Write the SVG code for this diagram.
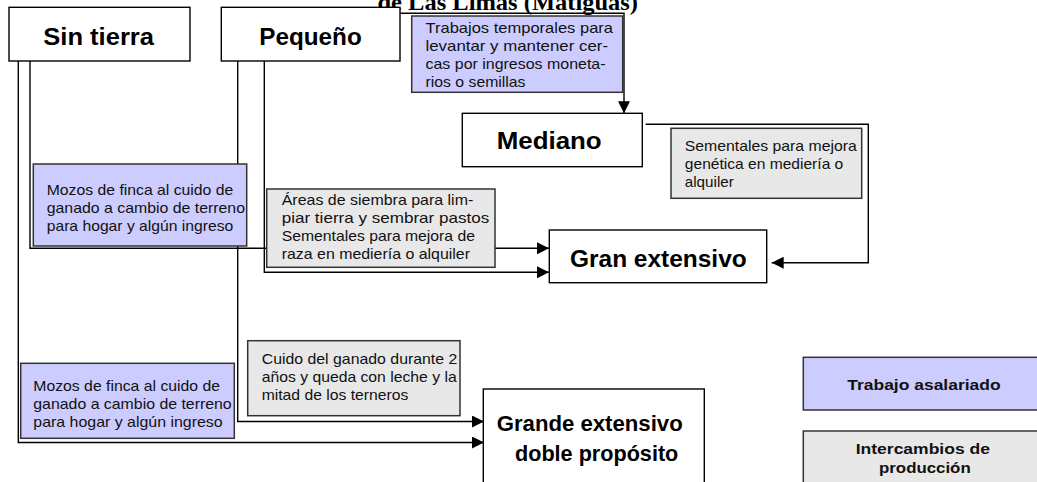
<svg xmlns="http://www.w3.org/2000/svg" width="1037" height="482" viewBox="0 0 1037 482">
<style>
.node{fill:#fff;stroke:#000;stroke-width:1.4}
.lab{stroke:#333;stroke-width:1.5}
.purple{fill:#ccccff}
.gray{fill:#e8e8e8}
.title{font-family:"Liberation Sans",Arial,sans-serif;font-weight:bold;font-size:23px;fill:#000}
.t2{font-family:"Liberation Sans",Arial,sans-serif;font-weight:bold;font-size:22px;fill:#000}
.txt{font-family:"Liberation Sans",Arial,sans-serif;font-size:15px;fill:#111}
.leg{font-family:"Liberation Sans",Arial,sans-serif;font-weight:bold;font-size:15px;fill:#111}
.con{fill:none;stroke:#000;stroke-width:1.4}
</style>
<defs>
<marker id="arr" markerUnits="userSpaceOnUse" markerWidth="13" markerHeight="12" refX="12" refY="6" orient="auto">
<path d="M0,0 L12,6 L0,12 z" fill="#000"/>
</marker>
</defs>
<rect width="1037" height="482" fill="#fff"/>
<text x="377.5" y="9.5" font-family="'Liberation Serif','Times New Roman',serif" font-weight="bold" font-size="24" textLength="260.5" lengthAdjust="spacingAndGlyphs">de Las Limas (Matiguás)</text>

<g id="connectors">
<path class="con" d="M400,13.3 H624 V113.3" marker-end="url(#arr)"/>
<path class="con" d="M645.7,124.3 H868.3 V262.7 H771.7" marker-end="url(#arr)"/>
<path class="con" d="M30,61 V248.3 H549" marker-end="url(#arr)"/>
<path class="con" d="M264.3,61 V272.3 H549" marker-end="url(#arr)"/>
<path class="con" d="M237.7,61 V421.5 H484" marker-end="url(#arr)"/>
<path class="con" d="M18.3,61 V442.5 H484" marker-end="url(#arr)"/>
</g>

<g id="sin-tierra">
<rect class="node" x="9" y="7.3" width="181" height="53.7"/>
<text class="title" x="43.3" y="45" textLength="110.7" lengthAdjust="spacingAndGlyphs">Sin tierra</text>
</g>
<g id="pequeno">
<rect class="node" x="221.3" y="7.3" width="178.7" height="53.7"/>
<text class="title" x="259.3" y="45" textLength="102.4" lengthAdjust="spacingAndGlyphs">Pequeño</text>
</g>
<g id="mediano">
<rect class="node" x="462.3" y="113.3" width="180" height="53.4"/>
<text class="title" x="496.7" y="149" textLength="105" lengthAdjust="spacingAndGlyphs">Mediano</text>
</g>
<g id="gran-extensivo">
<rect class="node" x="549.3" y="230" width="217.4" height="52.7"/>
<text class="title" x="570" y="266.7" textLength="176.7" lengthAdjust="spacingAndGlyphs">Gran extensivo</text>
</g>
<g id="grande-extensivo-doble">
<rect class="node" x="483.3" y="389" width="221" height="100"/>
<text class="t2" x="496.7" y="430.5" textLength="186" lengthAdjust="spacingAndGlyphs">Grande extensivo</text>
<text class="t2" x="515" y="460.5" textLength="163.3" lengthAdjust="spacingAndGlyphs">doble propósito</text>
</g>

<g id="label-trabajos-temporales">
<rect class="lab purple" x="411.7" y="16" width="211" height="76.3"/>
<text class="txt" x="425.5" y="32.5" textLength="187.5" lengthAdjust="spacingAndGlyphs">Trabajos temporales para</text>
<text class="txt" x="425.5" y="50.5" textLength="182.5" lengthAdjust="spacingAndGlyphs">levantar y mantener cer-</text>
<text class="txt" x="425.5" y="68.5" textLength="180" lengthAdjust="spacingAndGlyphs">cas por ingresos moneta-</text>
<text class="txt" x="425.5" y="86.5" textLength="100" lengthAdjust="spacingAndGlyphs">rios o semillas</text>
</g>
<g id="label-sementales-genetica">
<rect class="lab gray" x="671" y="128.3" width="190.7" height="70"/>
<text class="txt" x="684.8" y="150.5" textLength="172" lengthAdjust="spacingAndGlyphs">Sementales para mejora</text>
<text class="txt" x="684.8" y="168.5" textLength="158.5" lengthAdjust="spacingAndGlyphs">genética en mediería o</text>
<text class="txt" x="684.8" y="186.5" textLength="49" lengthAdjust="spacingAndGlyphs">alquiler</text>
</g>
<g id="label-mozos-1">
<rect class="lab purple" x="33.3" y="164" width="213.4" height="82"/>
<text class="txt" x="46.7" y="194.5" textLength="186.6" lengthAdjust="spacingAndGlyphs">Mozos de finca al cuido de</text>
<text class="txt" x="46.7" y="212.5" textLength="198.3" lengthAdjust="spacingAndGlyphs">ganado a cambio de terreno</text>
<text class="txt" x="46.7" y="230.5" textLength="186.6" lengthAdjust="spacingAndGlyphs">para hogar y algún ingreso</text>
</g>
<g id="label-areas-siembra">
<rect class="lab gray" x="266.7" y="189" width="228.3" height="78.3"/>
<text class="txt" x="281.7" y="205" textLength="191.6" lengthAdjust="spacingAndGlyphs">Áreas de siembra para lim-</text>
<text class="txt" x="281.7" y="223" textLength="207.6" lengthAdjust="spacingAndGlyphs">piar tierra y sembrar pastos</text>
<text class="txt" x="281.7" y="241" textLength="193.3" lengthAdjust="spacingAndGlyphs">Sementales para mejora de</text>
<text class="txt" x="281.7" y="259" textLength="188.3" lengthAdjust="spacingAndGlyphs">raza en mediería o alquiler</text>
</g>
<g id="label-cuido-ganado">
<rect class="lab gray" x="247.7" y="340.7" width="212.3" height="75"/>
<text class="txt" x="261.7" y="364" textLength="195.6" lengthAdjust="spacingAndGlyphs">Cuido del ganado durante 2</text>
<text class="txt" x="261.7" y="382" textLength="195" lengthAdjust="spacingAndGlyphs">años y queda con leche y la</text>
<text class="txt" x="261.7" y="400" textLength="146.6" lengthAdjust="spacingAndGlyphs">mitad de los terneros</text>
</g>
<g id="label-mozos-2">
<rect class="lab purple" x="20.7" y="363.3" width="213.6" height="75"/>
<text class="txt" x="33.3" y="390.5" textLength="186.7" lengthAdjust="spacingAndGlyphs">Mozos de finca al cuido de</text>
<text class="txt" x="33.3" y="408.5" textLength="198.4" lengthAdjust="spacingAndGlyphs">ganado a cambio de terreno</text>
<text class="txt" x="33.3" y="426.5" textLength="189.4" lengthAdjust="spacingAndGlyphs">para hogar y algún ingreso</text>
</g>

<g id="legend-trabajo-asalariado">
<rect class="lab purple" x="803.3" y="357.3" width="245" height="52.7"/>
<text class="leg" x="847.3" y="390" textLength="153.3" lengthAdjust="spacingAndGlyphs">Trabajo asalariado</text>
</g>
<g id="legend-intercambios">
<rect class="lab gray" x="803.3" y="431" width="245" height="60"/>
<text class="leg" x="855.7" y="453.5" textLength="134.3" lengthAdjust="spacingAndGlyphs">Intercambios de</text>
<text class="leg" x="879" y="473" textLength="91.7" lengthAdjust="spacingAndGlyphs">producción</text>
</g>
</svg>
